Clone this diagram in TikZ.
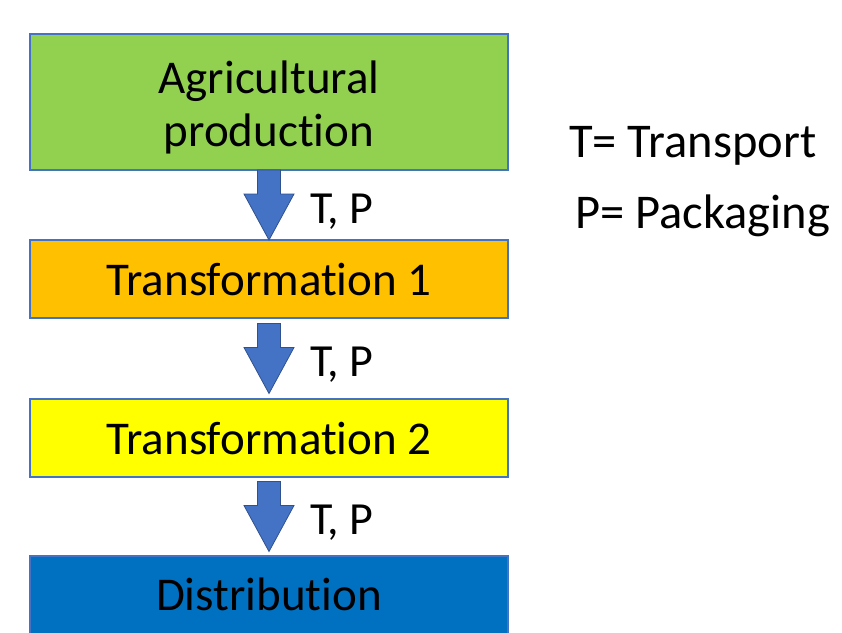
\documentclass[tikz,border=0pt]{standalone}
\usepackage{fontspec}
\setmainfont{Carlito}[Ligatures={NoCommon,NoContextual}]
\usetikzlibrary{calc}
\definecolor{agrigreen}{HTML}{92D050}
\definecolor{transorange}{HTML}{FFC000}
\definecolor{transyellow}{HTML}{FFFF00}
\definecolor{distblue}{HTML}{0070C0}
\definecolor{edgeblue}{HTML}{4472C4}
\definecolor{darkedge}{HTML}{2F528F}
\newcommand{\flowarrow}[3]{
\coordinate (#3) at ($(#1.south)!0.5!(#2.north)$);
\draw [flow, shift={(#3)}] (-11.5,35) -- (11.5,35) -- (11.5,11) -- (25,11) -- (0,-35) -- (-25,11) -- (-11.5,11) -- cycle;
\node [tplabel] (#3text) at ($(#3)+(41,-18)$) {T, P};
}
\begin{document}
\begin{tikzpicture}
[x=1pt,y=1pt,
 stagebox/.style={draw=edgeblue, line width=1.5pt, minimum width=478pt, inner sep=0pt, text height=40pt, text depth=8pt, font=\fontsize{47}{52}\selectfont},
 flow/.style={fill=edgeblue, draw=darkedge, line width=0.8pt, line join=miter},
 tplabel/.style={anchor=base west, inner sep=0pt, font=\fontsize{46}{52}\selectfont},
 legend/.style={anchor=base west, inner sep=0pt, font=\fontsize{48.5}{52}\selectfont}]
\useasboundingbox (0,0) rectangle (842,-632);
\fill [white] (0,0) rectangle (842,-632);
\node [stagebox, fill=agrigreen, minimum height=136pt, text height=, text depth=, align=center, font=\fontsize{47}{53}\selectfont] (agri) at (269,-102) {\rule{0pt}{44pt}Agricultural\\production};
\node [stagebox, fill=transorange, minimum height=78pt] (trans1) at (269,-279) {Transformation 1};
\node [stagebox, fill=transyellow, minimum height=78pt] (trans2) at (269,-438) {Transformation 2};
\node [stagebox, fill=distblue, minimum height=90pt, text depth=22pt] (dist) at (269,-601) {Distribution};
\flowarrow{agri}{trans1}{step1}
\flowarrow{trans1}{trans2}{step2}
\flowarrow{trans2}{dist}{step3}
\node [legend] (tlegend) at (569,-157) {T= Transport};
\node [legend] (plegend) at (575,-228) {P= Packaging};
\end{tikzpicture}
\end{document}
